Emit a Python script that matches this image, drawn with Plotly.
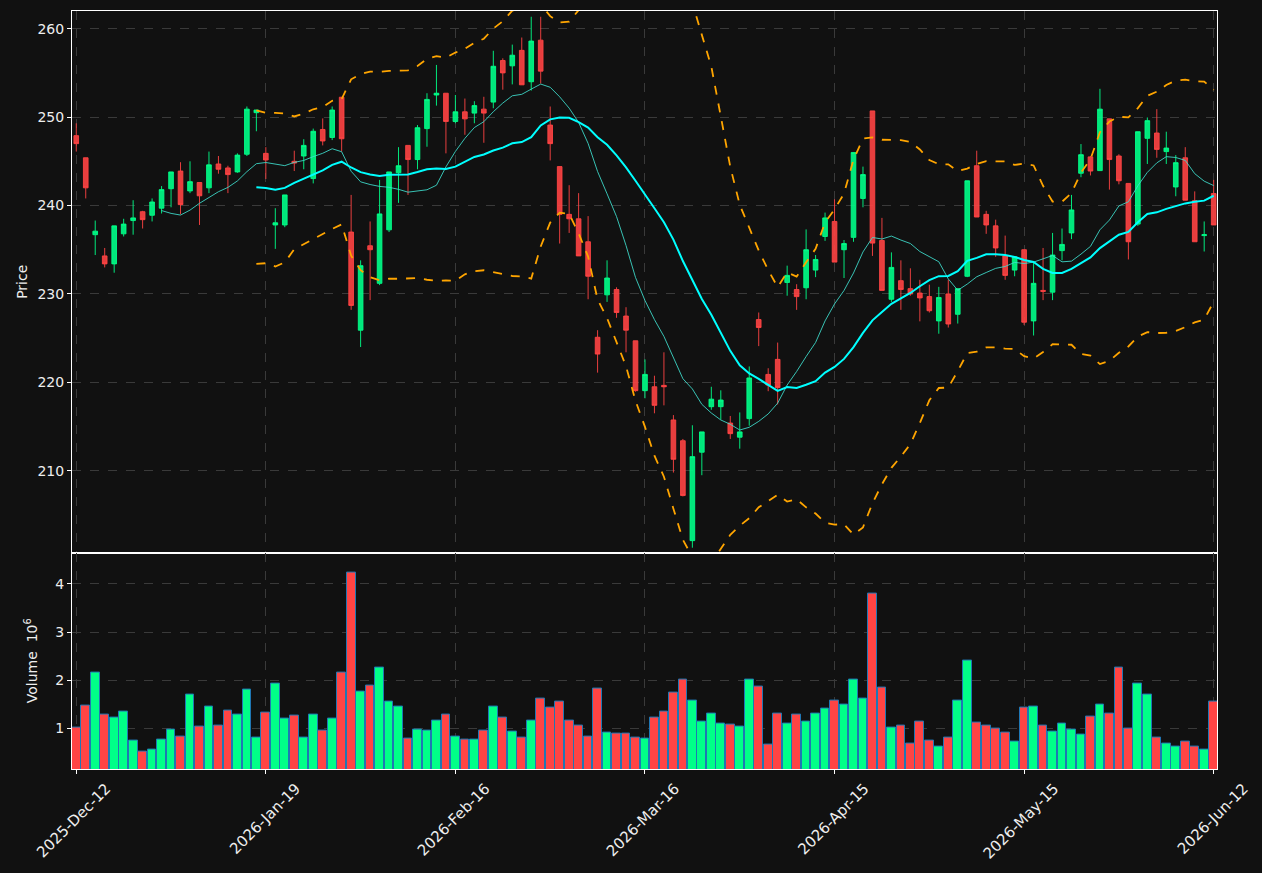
import numpy as np
import pandas as pd
import plotly.graph_objects as go

# ---------------- data ----------------
tick_labels = ["2025-Dec-12", "2026-Jan-19", "2026-Feb-16", "2026-Mar-16",
               "2026-Apr-15", "2026-May-15", "2026-Jun-12"]
tick_step = 20

opens = [247.9, 245.4, 236.7, 234.3, 233.4, 236.8, 238.3, 239.3, 238.9, 239.7,
         241.9, 243.9, 241.65, 242.6, 242.0, 244.7, 244.25, 243.8, 245.8, 250.5,
         245.9, 237.8, 237.8, 245.0, 245.6, 243.05, 248.6, 247.7, 252.25, 237.0,
         225.9, 235.45, 231.2, 237.25, 243.7, 246.8, 245.2, 248.7, 252.5, 252.7,
         249.5, 250.6, 250.45, 250.9, 251.7, 256.4, 255.8, 257.55, 254.0, 258.7,
         249.1, 244.4, 239.0, 238.5, 235.9, 225.1, 229.9, 230.5, 227.5, 224.7,
         219.06, 219.5, 219.66, 215.75, 213.4, 202.1, 212.1, 217.25, 217.25, 215.4,
         213.8, 215.9, 227.1, 220.9, 222.6, 231.3, 230.5, 230.7, 232.7, 236.5,
         238.2, 235.0, 236.4, 240.8, 250.7, 236.05, 229.4, 231.5, 230.6, 230.1,
         229.7, 226.95, 230.0, 227.7, 232.0, 244.5, 239.0, 237.7, 234.3, 232.7,
         235.0, 226.95, 230.4, 230.2, 234.9, 236.9, 243.65, 245.5, 243.95, 249.8,
         245.6, 242.5, 237.9, 247.6, 248.2, 246.1, 242.1, 245.4, 240.55, 236.6,
         241.35]
highs = [249.3, 245.4, 238.3, 235.2, 237.7, 238.5, 240.6, 239.4, 240.8, 242.2,
         243.8, 244.9, 245.0, 242.6, 246.1, 245.6, 244.5, 245.9, 251.2, 250.8,
         246.6, 239.7, 241.2, 246.2, 247.5, 248.7, 249.85, 251.2, 252.25, 241.2,
         233.8, 238.2, 242.9, 243.8, 246.6, 246.8, 249.1, 252.7, 255.9, 252.7,
         252.5, 252.1, 251.8, 252.3, 257.5, 256.65, 258.2, 259.0, 261.35, 261.35,
         251.2, 244.4, 242.3, 241.4, 238.8, 225.9, 233.8, 230.75, 228.5, 224.7,
         222.6, 220.75, 223.4, 216.3, 213.6, 215.15, 214.4, 219.5, 219.1, 216.2,
         216.6, 221.8, 227.9, 221.6, 224.5, 233.2, 231.1, 237.3, 234.4, 239.2,
         240.7, 236.1, 246.0, 244.4, 250.7, 238.6, 234.7, 233.8, 232.9, 231.6,
         231.05, 230.8, 231.6, 230.6, 242.8, 246.2, 239.4, 238.4, 236.6, 234.2,
         235.0, 233.6, 235.2, 236.9, 237.4, 241.2, 246.95, 245.6, 253.2, 249.8,
         245.8, 242.5, 248.35, 249.96, 250.9, 248.35, 245.7, 246.6, 241.6, 238.2,
         242.9]
lows = [246.1, 240.8, 234.4, 233.0, 232.4, 236.5, 236.7, 237.4, 238.2, 239.1,
        239.8, 239.0, 241.4, 237.8, 241.4, 243.6, 241.4, 243.7, 245.6, 248.4,
        243.0, 235.1, 237.55, 243.9, 244.1, 242.5, 246.8, 247.4, 246.1, 228.2,
        224.0, 229.3, 231.0, 237.0, 240.3, 241.2, 244.1, 246.65, 251.3, 245.9,
        249.3, 248.0, 249.3, 247.1, 251.0, 253.1, 253.7, 253.65, 253.0, 253.8,
        245.1, 235.7, 236.9, 234.3, 229.4, 221.1, 229.1, 227.3, 223.4, 218.95,
        218.2, 216.5, 217.4, 209.8, 207.1, 201.3, 209.5, 216.9, 215.8, 213.6,
        212.5, 215.1, 224.1, 219.0, 217.5, 229.8, 228.2, 229.4, 231.9, 236.0,
        233.6, 231.8, 235.9, 239.8, 234.3, 230.4, 229.1, 228.2, 229.8, 226.9,
        227.9, 225.5, 226.2, 226.65, 231.9, 238.7, 236.8, 234.2, 231.6, 232.0,
        226.5, 225.3, 229.3, 229.3, 233.8, 236.2, 243.2, 243.4, 243.95, 241.8,
        242.4, 233.9, 237.7, 244.7, 245.4, 244.7, 241.05, 240.6, 235.9, 234.8,
        237.8]
closes = [247.0, 242.0, 237.1, 233.4, 237.7, 237.9, 238.6, 238.4, 240.4, 241.8,
          243.8, 240.1, 242.7, 241.1, 244.6, 244.1, 243.5, 245.7, 250.9, 250.8,
          245.15, 238.05, 241.2, 244.8, 246.8, 248.4, 247.3, 250.8, 247.55, 228.7,
          233.2, 235.0, 239.05, 243.8, 244.5, 245.2, 248.8, 252.0, 252.7, 249.5,
          250.6, 249.8, 251.3, 250.45, 255.75, 255.0, 257.0, 253.65, 258.6, 255.2,
          247.0, 239.0, 238.5, 234.3, 232.0, 223.2, 231.8, 227.9, 225.9, 219.06,
          220.9, 217.4, 219.5, 211.3, 207.2, 211.6, 214.4, 218.1, 218.0, 214.2,
          214.4, 220.5, 226.2, 219.7, 219.4, 232.1, 229.7, 235.0, 233.9, 238.6,
          233.6, 235.7, 246.0, 243.5, 235.75, 230.4, 233.0, 230.5, 230.0, 229.55,
          228.1, 229.6, 226.6, 230.6, 242.8, 238.7, 237.8, 235.2, 232.1, 234.2,
          226.8, 231.2, 230.3, 234.4, 235.6, 239.5, 245.75, 243.9, 250.9, 245.2,
          242.8, 235.9, 248.35, 249.6, 246.35, 246.5, 244.85, 240.6, 235.9, 236.7,
          237.8]
volumes = [1.02, 1.48, 2.16, 1.29, 1.23, 1.35, 0.75, 0.52, 0.57, 0.77,
           0.98, 0.83, 1.70, 1.04, 1.46, 1.06, 1.37, 1.29, 1.81, 0.81,
           1.33, 1.93, 1.21, 1.27, 0.81, 1.29, 0.96, 1.21, 2.16, 4.23,
           1.77, 1.89, 2.26, 1.56, 1.46, 0.79, 0.98, 0.96, 1.17, 1.29,
           0.83, 0.77, 0.77, 0.96, 1.46, 1.23, 0.94, 0.81, 1.17, 1.62,
           1.43, 1.56, 1.17, 1.06, 0.83, 1.83, 0.92, 0.90, 0.90, 0.81,
           0.79, 1.23, 1.35, 1.74, 2.01, 1.58, 1.14, 1.31, 1.10, 1.08,
           1.04, 2.01, 1.87, 0.67, 1.31, 1.10, 1.29, 1.14, 1.31, 1.41,
           1.58, 1.50, 2.01, 1.62, 3.79, 1.85, 1.02, 1.06, 0.69, 1.14,
           0.75, 0.63, 0.81, 1.58, 2.41, 1.12, 1.06, 1.00, 0.92, 0.73,
           1.43, 1.46, 1.06, 0.94, 1.10, 0.98, 0.88, 1.25, 1.50, 1.31,
           2.26, 1.00, 1.93, 1.70, 0.81, 0.69, 0.63, 0.73, 0.63, 0.57,
           1.56]

# ---------------- derived ----------------
n = len(closes)
x = list(range(n))
cs = pd.Series(closes)
ma10 = cs.rolling(10).mean()
ma20 = cs.rolling(20).mean()
sd20 = cs.rolling(20).std(ddof=0)
bb_up = ma20 + 2 * sd20
bb_lo = ma20 - 2 * sd20

UP = "#00ff88"
DOWN = "#ff4444"
vol_colors = [UP if c >= o else DOWN for o, c in zip(opens, closes)]
tick_vals = list(range(0, n, tick_step))

BG = "#111111"
GRID = "#3a3a3a"
TXT = "#eeeeee"

fig = go.Figure()
fig.add_trace(go.Candlestick(
    x=x, open=opens, high=highs, low=lows, close=closes,
    increasing=dict(line=dict(color="rgba(0,255,136,0.9)", width=1),
                    fillcolor="rgba(0,255,136,0.9)"),
    decreasing=dict(line=dict(color="rgba(255,68,68,0.9)", width=1),
                    fillcolor="rgba(255,68,68,0.9)"),
    whiskerwidth=0, xaxis="x", yaxis="y", showlegend=False, hoverinfo="skip"))
fig.add_trace(go.Scatter(x=x, y=ma10, mode="lines",
                         line=dict(color="rgba(64,224,208,0.85)", width=1),
                         xaxis="x", yaxis="y", showlegend=False))
fig.add_trace(go.Scatter(x=x, y=ma20, mode="lines",
                         line=dict(color="#00ffff", width=2),
                         xaxis="x", yaxis="y", showlegend=False))
for band in (bb_up, bb_lo):
    fig.add_trace(go.Scatter(x=x, y=band, mode="lines",
                             line=dict(color="#ffa500", width=1.8, dash="dash"),
                             xaxis="x", yaxis="y", showlegend=False))
fig.add_trace(go.Bar(x=x, y=volumes, marker=dict(color=vol_colors,
                     line=dict(color="#1f77b4", width=1)),
                     width=0.92, xaxis="x2", yaxis="y2", showlegend=False))

split = 217 / 760
axis_common = dict(showline=True, mirror=True, linecolor="white", linewidth=1,
                   showgrid=True, gridcolor=GRID, griddash="dash", gridwidth=1,
                   zeroline=False, ticks="outside", ticklen=4, tickcolor="white")
yfont = dict(color=TXT, size=14, family="DejaVu Sans")
xr = [-0.45, n - 1 + 0.35]
fig.update_layout(
    width=1262, height=873,
    paper_bgcolor=BG, plot_bgcolor=BG,
    margin=dict(l=72, r=44, t=10, b=103),
    showlegend=False, bargap=0,
    font=dict(family="DejaVu Sans", color=TXT, size=14),
    xaxis=dict(domain=[0, 1], anchor="y", range=xr, tickvals=tick_vals,
               showticklabels=False, rangeslider=dict(visible=False),
               **axis_common),
    xaxis2=dict(domain=[0, 1], anchor="y2", range=xr, tickvals=tick_vals,
                ticktext=tick_labels, tickangle=-45, matches="x",
                ticklabelshift=30,
                tickfont=dict(color=TXT, size=15, family="DejaVu Sans"),
                **axis_common),
    yaxis=dict(domain=[split, 1], anchor="x", range=[200.75, 262.0],
               tickvals=[210, 220, 230, 240, 250, 260], tickfont=yfont,
               title=dict(text="Price", standoff=6, font=dict(size=14, color=TXT)),
               **axis_common),
    yaxis2=dict(domain=[0, split], anchor="x2", range=[0.158, 4.65],
                tickvals=[1, 2, 3, 4], tickfont=yfont,
                title=dict(text="Volume  10<sup>6</sup>", standoff=14,
                           font=dict(size=14, color=TXT)),
                **axis_common),
)

fig.write_html("out.html")
